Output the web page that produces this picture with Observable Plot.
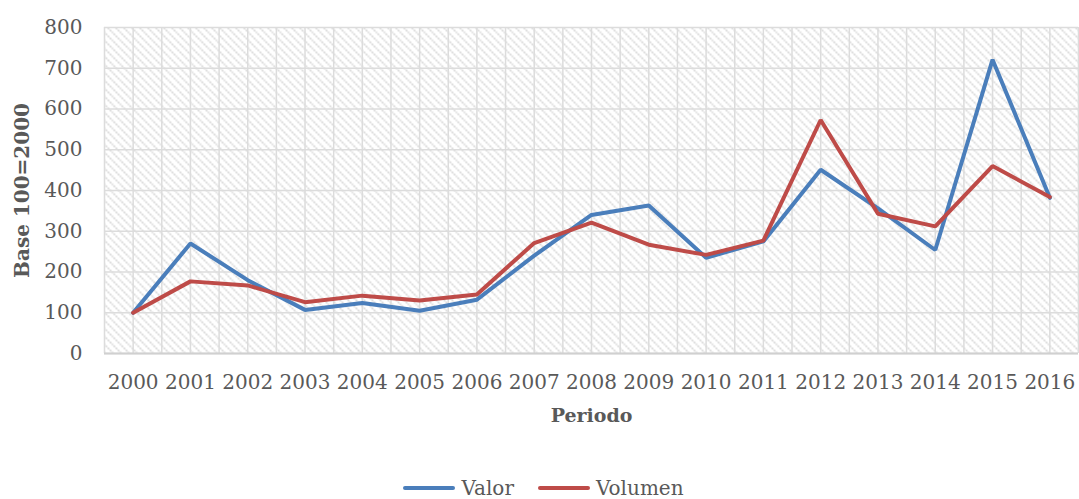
<!DOCTYPE html>
<html>
<head>
<meta charset="utf-8">
<script src="https://cdn.jsdelivr.net/npm/d3@7"></script>
<script src="https://cdn.jsdelivr.net/npm/@observablehq/plot@0.6"></script>
<style>
  html, body { margin: 0; padding: 0; background: #fff; }
  #chart { width: 1079px; }
  .legend { display: flex; justify-content: center; align-items: center; gap: 24px;
    font-family: "DejaVu Serif", serif; font-size: 20px; color: #595959; margin-top: 31px; padding-left: 8px; }
  .legend span.item { display: flex; align-items: center; gap: 6px; }
  .legend span.sw { display: inline-block; width: 52px; height: 4px; border-radius: 2px; }
</style>
</head>
<body>
<div id="chart"></div>
<script>
const years = [2000,2001,2002,2003,2004,2005,2006,2007,2008,2009,2010,2011,2012,2013,2014,2015,2016];
const valor = [100,270,180,107,124,105,132,240,340,363,235,275,451,356,254,721,382];
const volumen = [100,177,167,126,142,130,145,271,321,267,242,277,573,343,312,460,384];
const seriesNames = ["Valor", "Volumen"];
const seriesColors = ["#4a7ebb", "#be4b48"];
const yTicks = [0,100,200,300,400,500,600,700,800];
const gridX = years.flatMap(y => [y - 0.5, y]).concat([years[years.length-1] + 0.5]);

const data = [];
years.forEach((yr, i) => {
  data.push({year: yr, value: valor[i], serie: seriesNames[0]});
  data.push({year: yr, value: volumen[i], serie: seriesNames[1]});
});

const plot = Plot.plot({
  width: 1079,
  height: 445,
  marginLeft: 104,
  marginRight: 1,
  marginTop: 27,
  marginBottom: 92,
  style: {fontFamily: "DejaVu Serif, serif", fontSize: "20px", color: "#595959", background: "#fff", overflow: "visible"},
  x: {domain: [1999.5, 2016.5]},
  y: {domain: [0, 800]},
  color: {domain: seriesNames, range: seriesColors},
  marks: [
    Plot.frame({fill: "url(#hatch)", stroke: null}),
    Plot.ruleX(gridX, {stroke: "#dcdcdc", strokeWidth: 1.5}),
    Plot.ruleY(yTicks, {stroke: "#dcdcdc", strokeWidth: 1.5}),
    Plot.ruleY([0], {stroke: "#d0d0d0", strokeWidth: 2}),
    Plot.axisX(years, {tickSize: 0, tickPadding: 21, tickFormat: d => String(d), label: null, fontSize: 20}),
    Plot.axisY(yTicks, {tickSize: 0, tickPadding: 22, label: null, fontSize: 20}),
    Plot.text(["Periodo"], {frameAnchor: "bottom", dy: 68, fontWeight: "bold", fontSize: 19, fill: "#595959"}),
    Plot.text(["Base 100=2000"], {frameAnchor: "left", textAnchor: "middle", dx: -82, rotate: -90, fontWeight: "bold", fontSize: 20, fill: "#595959"}),
    Plot.line(data, {x: "year", y: "value", stroke: "serie", strokeWidth: 4, strokeLinejoin: "miter", strokeLinecap: "round"})
  ]
});

// hatch pattern defs
const ns = "http://www.w3.org/2000/svg";
const defs = document.createElementNS(ns, "defs");
defs.innerHTML = `<pattern id="hatch" patternUnits="userSpaceOnUse" width="8" height="8">
  <rect width="8" height="8" fill="#ffffff"/>
  <path d="M-1,-1 L9,9 M-1,7 L1,9 M7,-1 L9,1" stroke="#d3d3d3" stroke-width="1.6" stroke-dasharray="2 1"/>
</pattern>`;
plot.insertBefore(defs, plot.firstChild);

document.getElementById("chart").appendChild(plot);

const legend = document.createElement("div");
legend.className = "legend";
seriesNames.forEach((n, i) => {
  const it = document.createElement("span");
  it.className = "item";
  it.innerHTML = `<span class="sw" style="background:${seriesColors[i]}"></span><span>${n}</span>`;
  legend.appendChild(it);
});
document.getElementById("chart").appendChild(legend);
</script>
</body>
</html>
